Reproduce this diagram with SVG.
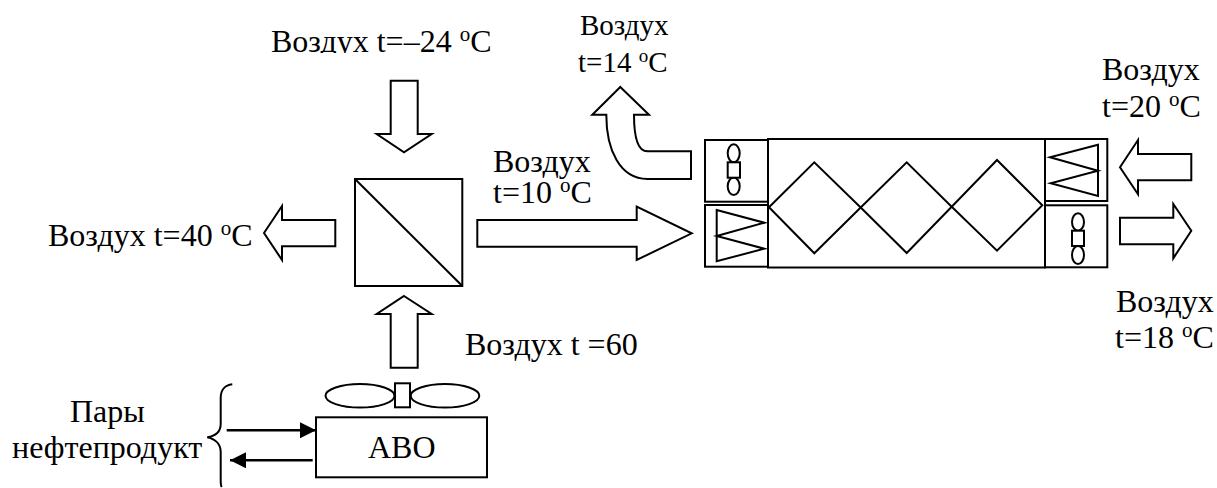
<svg xmlns="http://www.w3.org/2000/svg" width="1217" height="488" viewBox="0 0 1217 488">
<style>
.s{fill:none;stroke:#000;stroke-width:2;stroke-linejoin:miter}
.w{fill:#fff;stroke:#000;stroke-width:2}
.t{stroke-width:2.4}
text{font-family:"Liberation Serif","Times New Roman",serif;font-size:32px;fill:#000}
.o{font-size:21px}
.n{font-size:29px}
.no{font-size:19px}
</style>
<defs>
<clipPath id="cut"><rect x="260" y="10" width="250" height="43"/></clipPath>
<marker id="ah" markerUnits="userSpaceOnUse" markerWidth="16" markerHeight="16" refX="16" refY="8" orient="auto"><path d="M0,0 L16,8 L0,16 Z" fill="#000"/></marker>
</defs>
<rect width="1217" height="488" fill="#fff"/>
<g id="labels">
<text x="271" y="52" clip-path="url(#cut)">Воздух t=–24 <tspan class="o" dy="-11">o</tspan><tspan dy="11">C</tspan></text>
<text x="48" y="245.5">Воздух t=40 <tspan class="o" dy="-11">o</tspan><tspan dy="11">C</tspan></text>
<text x="465" y="355">Воздух t =60</text>
<text x="493" y="172">Воздух</text>
<text x="493" y="203">t=10 <tspan class="o" dy="-11">o</tspan><tspan dy="11">C</tspan></text>
<text x="580" y="35" class="n">Воздух</text>
<text x="578" y="72" class="n">t=14 <tspan class="no" dy="-10">o</tspan><tspan dy="10">C</tspan></text>
<text x="1102" y="80">Воздух</text>
<text x="1102" y="117">t=20 <tspan class="o" dy="-11">o</tspan><tspan dy="11">C</tspan></text>
<text x="1116" y="312">Воздух</text>
<text x="1115" y="348">t=18 <tspan class="o" dy="-11">o</tspan><tspan dy="11">C</tspan></text>
<text x="70" y="422">Пары</text>
<text x="12" y="458">нефтепродукт</text>
</g>
<g id="connectors">
<path class="w" d="M390.7,80.7H417.7V134H431.7L404,152.3L376.7,134H390.7Z"/>
<path class="w" d="M404,296L431.7,314H417.7V367.7H390.7V314H376.7Z"/>
<path class="w" d="M264,233L282,206V220H335.3V246.3H282V260Z"/>
<path class="w" d="M477.3,220H636.7V206.7L691.7,233.3L636.7,260V246.7H477.3Z"/>
<path class="w" d="M620.3,87L649,114.7H634C634,137 638,151.3 647.3,151.3H691V179H647.3C620,179 606.3,150 606.3,114.7H592.3Z"/>
<path class="w" d="M1120,167.3L1138,140V154H1191.3V180.3H1138V194.3Z"/>
<path class="w" d="M1120,217.7H1173.3V204L1191.3,230.7L1173.3,258.3V244.3H1120Z"/>
<path class="s t" d="M226.7,430.3H316" marker-end="url(#ah)"/>
<path class="s t" d="M312.7,460.3H230" marker-end="url(#ah)"/>
</g>
<g id="brace"><path class="s" d="M232.3,384.3C225,385 220.7,390 220.7,398V424C220.7,432 215,436 207.3,437.3C215,439 220.7,444 220.7,452V480C220.7,484 221,486 221.7,487"/></g>
<g id="cooler"><rect class="w" x="355" y="179" width="107.3" height="107"/><path class="s" d="M355,179L462.3,286"/></g>
<g id="abo">
<rect class="w" x="316" y="417.3" width="171" height="60"/>
<text x="368" y="458">АВО</text>
<ellipse class="w" cx="360" cy="395.8" rx="34.5" ry="11.8"/>
<ellipse class="w" cx="445" cy="395.8" rx="34.3" ry="11.8"/>
<rect class="w" x="395" y="383.3" width="15" height="24"/>
</g>
<g id="recuperator">
<rect class="w" x="768" y="139" width="277" height="128.5"/>
<path class="s" d="M769,207.3L814.3,162.3L860.7,207.5L814.3,253.3Z"/>
<path class="s" d="M860.7,207.5L906.7,162.3L951.7,206.7L906.7,253Z"/>
<path class="s" d="M951.7,206.7L997,160L1042.3,205.3L997,250.7Z"/>
</g>
<g id="fan-left">
<rect class="w" x="705" y="140" width="63" height="61.7"/>
<ellipse class="w" cx="733.7" cy="153.3" rx="6" ry="9"/>
<ellipse class="w" cx="733.7" cy="186.3" rx="6" ry="8.7"/>
<rect class="w" x="727.7" y="162.3" width="12.3" height="15.4"/>
</g>
<g id="filter-left">
<rect class="w" x="705" y="205" width="63" height="61.7"/>
<path class="s" d="M716.7,210L764.3,222.7L716.7,236L764.3,248.7L716.7,261.3Z"/>
</g>
<g id="filter-right">
<rect class="w" x="1045" y="139" width="62.3" height="62"/>
<path class="s" d="M1098,144.7L1050,157.3L1098,170.7L1050.7,183.3L1098,196Z"/>
</g>
<g id="fan-right">
<rect class="w" x="1045" y="205.3" width="62.3" height="62"/>
<ellipse class="w" cx="1078" cy="222" rx="6" ry="8.7"/>
<ellipse class="w" cx="1078" cy="255" rx="6" ry="9"/>
<rect class="w" x="1072" y="230.7" width="12" height="15.3"/>
</g>
</svg>
